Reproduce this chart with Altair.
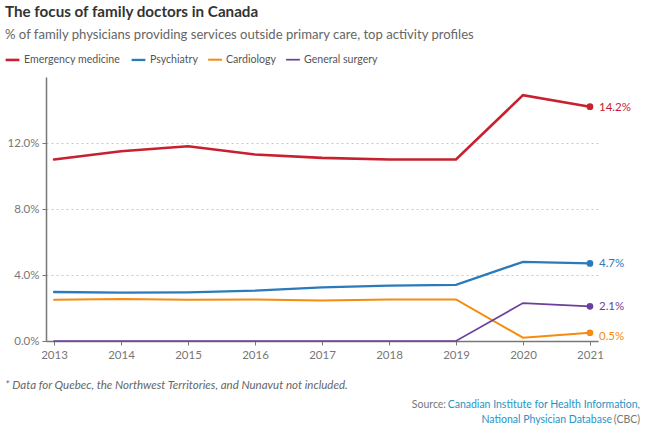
import altair as alt
import pandas as pd

FONT = "Lato, sans-serif"

years = [2013, 2014, 2015, 2016, 2017, 2018, 2019, 2020, 2021]
series_names = ["Emergency medicine", "Psychiatry", "Cardiology", "General surgery"]
emergency = [11.0, 11.5, 11.8, 11.3, 11.1, 11.0, 11.0, 14.9, 14.2]
psychiatry = [2.97, 2.93, 2.95, 3.05, 3.25, 3.35, 3.4, 4.8, 4.7]
cardiology = [2.5, 2.55, 2.5, 2.52, 2.45, 2.52, 2.52, 0.2, 0.5]
general_surgery = [0.0, 0.0, 0.0, 0.0, 0.0, 0.0, 0.0, 2.3, 2.1]
colors = ["#c8202f", "#2b7bba", "#f68b0f", "#6c3f9c"]
y_ticks = [0, 4, 8, 12]

title = "The focus of family doctors in Canada"
subtitle = "% of family physicians providing services outside primary care, top activity profiles"
footnote = "* Data for Quebec, the Northwest Territories, and Nunavut not included."

rows = []
for name, vals in zip(series_names, [emergency, psychiatry, cardiology, general_surgery]):
    for yr, v in zip(years, vals):
        rows.append({"year": yr, "series": name, "value": v})
df = pd.DataFrame(rows)
last = df[df["year"] == years[-1]].copy()
last["label"] = last["value"].map(lambda v: f"{v:.1f}%")

color = alt.Color(
    "series:N",
    scale=alt.Scale(domain=series_names, range=colors),
    legend=alt.Legend(
        title=None, orient="none", direction="horizontal",
        legendX=-42, legendY=-26,
        symbolType="stroke", symbolSize=190, symbolStrokeWidth=3,
        labelFont=FONT, labelFontSize=10.6, labelColor="#555",
        columnPadding=6, symbolOffset=0, labelOffset=3,
    ),
)

x = alt.X(
    "year:Q",
    scale=alt.Scale(domain=[2012.88, 2021.12], nice=False, zero=False),
    axis=alt.Axis(
        values=years, format="d", title=None, grid=False,
        domainColor="#777", domainWidth=1.5, tickColor="#777", tickSize=4,
        labelColor="#777", labelFont=FONT, labelFontSize=11.5, labelPadding=4,
    ),
)
y = alt.Y(
    "value:Q",
    scale=alt.Scale(domain=[0, 16], nice=False),
    axis=alt.Axis(
        values=y_ticks, title=None, labelExpr="format(datum.value, '.1f') + '%'",
        grid=True, gridDash=[2, 3], gridColor="#c8c8c8",
        domainColor="#777", domainWidth=1.5, tickColor="#777", tickSize=4,
        labelColor="#777", labelFont=FONT, labelFontSize=11.5, labelPadding=3,
    ),
)

lines = alt.Chart(df).mark_line(strokeCap="round").encode(
    x=x, y=y, color=color,
    strokeWidth=alt.StrokeWidth(
        "series:N",
        scale=alt.Scale(domain=series_names, range=[2.6, 1.7, 2.6, 1.6]),
        legend=None,
    ),
    order=alt.Order("year:Q"),
)

points = alt.Chart(last).mark_circle(size=45, opacity=1).encode(
    x="year:Q", y="value:Q", color=alt.Color("series:N", legend=None),
)

label_base = alt.Chart(last).encode(
    x="year:Q", y="value:Q", text="label:N",
    color=alt.Color("series:N", legend=None),
)
end_labels = label_base.transform_filter("datum.series != 'Cardiology'").mark_text(
    align="left", baseline="middle", dx=9, dy=1, font=FONT, fontSize=11.5
)
end_label_low = label_base.transform_filter("datum.series == 'Cardiology'").mark_text(
    align="left", baseline="middle", dx=9, dy=4, font=FONT, fontSize=11.5
)


def text_at(txt, px, py, **kw):
    return alt.Chart(pd.DataFrame({"t": [txt]})).mark_text(
        font=FONT, baseline="middle", **kw
    ).encode(text="t:N", x=alt.value(px), y=alt.value(py))


L = -46  # left edge of the canvas relative to the plot area
T = -77  # top edge of the canvas relative to the plot area
annotations = [
    text_at(title, L + 5, T + 12, align="left", fontSize=15.2, fontWeight="bold", color="#333"),
    text_at(subtitle, L + 5, T + 35, align="left", fontSize=13.1, color="#666"),
    text_at(footnote, L + 5, T + 386, align="left", fontSize=11.5, fontStyle="italic", color="#666"),
    text_at("Source:", L + 446, T + 405, align="right", fontSize=10.5, color="#777"),
    text_at("Canadian Institute for Health Information,", L + 640, T + 405, align="right", fontSize=10.5, color="#2594c6"),
    text_at("National Physician Database", L + 612, T + 420, align="right", fontSize=10.5, color="#2594c6"),
    text_at("(CBC)", L + 640, T + 420, align="right", fontSize=10.5, color="#777"),
]

chart = alt.layer(lines, points, end_labels, end_label_low, *annotations).resolve_scale(
    color="shared"
).properties(
    width=552, height=264,
    autosize=alt.AutoSizeParams(type="none"),
    padding={"left": 46, "top": 77, "right": 52, "bottom": 86},
    background="white",
).configure_view(stroke=None)

chart.save("out.html", embed_options={"renderer": "svg", "actions": False})
